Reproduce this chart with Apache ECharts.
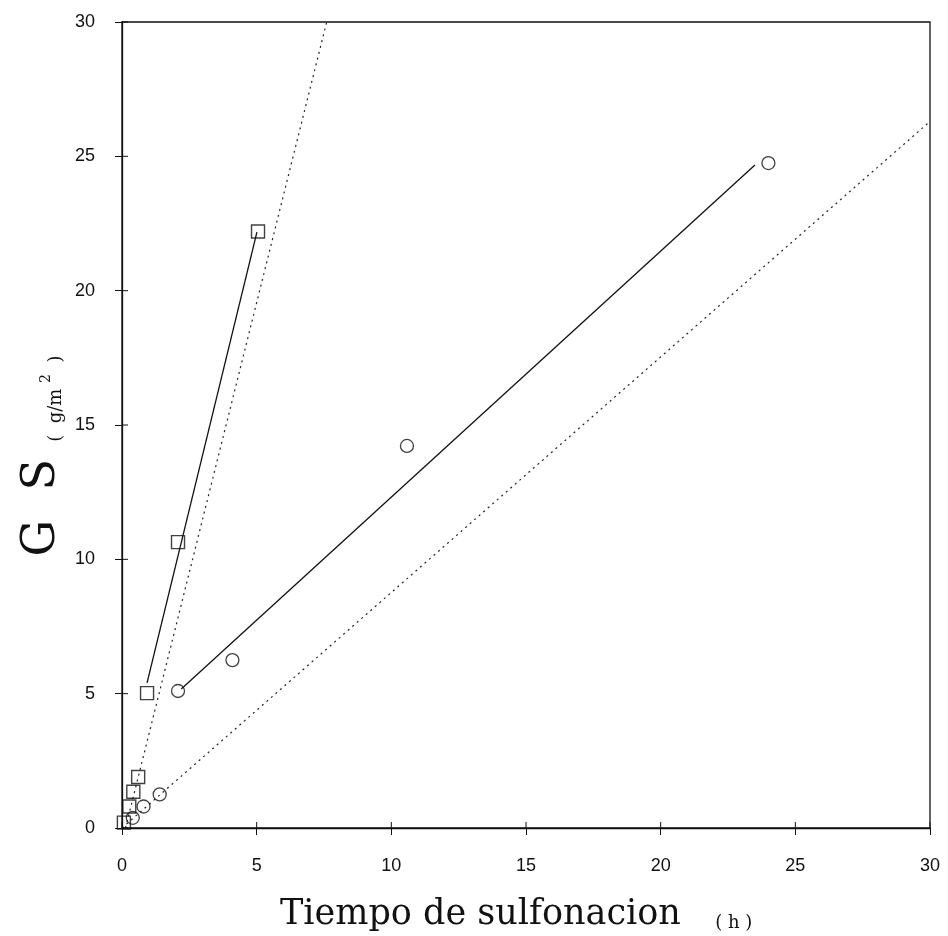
<!DOCTYPE html>
<html>
<head>
<meta charset="utf-8">
<script src="https://cdn.jsdelivr.net/npm/echarts@6/dist/echarts.min.js"></script>
<style>
html,body{margin:0;padding:0;background:#fff;}
#chart{width:948px;height:936px;}
</style>
</head>
<body>
<div id="chart"></div>
<script>
// Tick labels
var xTicks = [0, 5, 10, 15, 20, 25, 30];
var yTicks = [0, 5, 10, 15, 20, 25, 30];

// Square series (time h, GS g/m2)
var squareX = [0.07, 0.27, 0.42, 0.60, 0.93, 2.08, 5.05];
var squareY = [0.20, 0.80, 1.35, 1.90, 5.02, 10.64, 22.2];

// Circle series
var circleX = [0.40, 0.80, 1.40, 2.08, 4.10, 10.58, 24.0];
var circleY = [0.38, 0.80, 1.25, 5.10, 6.25, 14.22, 24.75];

// Solid fit lines (endpoints)
var squareFitX = [0.93, 5.01];
var squareFitY = [5.40, 22.18];
var circleFitX = [2.20, 23.50];
var circleFitY = [5.17, 24.68];

// Dotted reference lines (endpoints)
var steepRefX = [0.13, 7.60];
var steepRefY = [0.0, 30.0];
var lowRefX = [0.0, 30.0];
var lowRefY = [0.0, 26.3];

function pairs(xs, ys){ return xs.map(function(x,i){ return [x, ys[i]]; }); }

// inner half of the crossing ticks, placed through the axes' own scales
var innerTickData = xTicks.map(function(v){ return [v, 0]; })
  .concat(yTicks.map(function(v){ return [v, 1]; }));

var chart = echarts.init(document.getElementById('chart'));
var ink = '#111';
var labelFont = 'Liberation Sans, Arial, sans-serif';
var option = {
  backgroundColor: '#fff',
  animation: false,
  grid: { left: 122, right: 18, top: 22, bottom: 108, show: true, borderColor: ink, borderWidth: 1.3, backgroundColor: 'rgba(0,0,0,0)' },
  xAxis: { type: 'value', min: 0, max: 30, interval: 5,
      axisLine: { show: true, onZero: false, lineStyle: { color: ink, width: 1.3 } },
      axisTick: { show: true, inside: false, length: 7, lineStyle: { color: ink } },
      axisLabel: { margin: 29, fontFamily: labelFont, fontSize: 18, color: ink,
        formatter: function(v){ return xTicks.indexOf(v) >= 0 ? String(v) : ''; } },
      splitLine: { show: false } },
  yAxis: { type: 'value', min: 0, max: 30, interval: 5,
      axisLine: { show: true, onZero: false, lineStyle: { color: ink, width: 1.3 } },
      axisTick: { show: true, inside: false, length: 7, lineStyle: { color: ink } },
      axisLabel: { margin: 27, fontFamily: labelFont, fontSize: 18, color: ink,
        formatter: function(v){ return yTicks.indexOf(v) >= 0 ? String(v) : ''; } },
      splitLine: { show: false } },
  graphic: [
    { type: 'text', left: 280, top: 897, style: {
        text: '{a|Tiempo de sulfonacion}{s|      ( h )}',
        rich: {
          a: { fontFamily: 'DejaVu Serif, serif', fontSize: 35, fill: ink, verticalAlign: 'bottom' },
          s: { fontFamily: 'DejaVu Serif, serif', fontSize: 18, fill: ink, verticalAlign: 'bottom' }
        } } },
    { type: 'text', x: 42, y: 456, rotation: Math.PI/2, style: {
        text: '{a|G  S}{s|   (  g/m }{p|2}{s|  )}',
        align: 'center', verticalAlign: 'middle',
        rich: {
          a: { fontFamily: 'DejaVu Serif, serif', fontSize: 46, fill: ink, verticalAlign: 'bottom' },
          s: { fontFamily: 'DejaVu Serif, serif', fontSize: 18, fill: ink, verticalAlign: 'bottom' },
          p: { fontFamily: 'DejaVu Serif, serif', fontSize: 14, fill: ink, verticalAlign: 'bottom', padding: [0,0,12,0] }
        } } }
  ],
  series: [
    { type: 'custom', data: innerTickData, silent: true, z: 5, clip: false,
      renderItem: function(params, api){
        var v = api.value(0), kind = api.value(1);
        var p = kind === 0 ? api.coord([v, 0]) : api.coord([0, v]);
        var x2 = kind === 0 ? p[0] : p[0] + 6;
        var y2 = kind === 0 ? p[1] - 6 : p[1];
        return { type: 'line', shape: { x1: p[0], y1: p[1], x2: x2, y2: y2 },
                 style: { stroke: ink, lineWidth: 1 } };
      } },
    { type: 'line', data: pairs(lowRefX, lowRefY), symbol: 'none', silent: true,
      lineStyle: { color: '#222', width: 1.2, type: [2, 4] }, z: 1 },
    { type: 'line', data: pairs(steepRefX, steepRefY), symbol: 'none', silent: true,
      lineStyle: { color: '#222', width: 1.2, type: [2, 4] }, z: 1 },
    { type: 'line', data: pairs(squareFitX, squareFitY), symbol: 'none', silent: true,
      lineStyle: { color: ink, width: 1.3 }, z: 2 },
    { type: 'line', data: pairs(circleFitX, circleFitY), symbol: 'none', silent: true,
      lineStyle: { color: ink, width: 1.3 }, z: 2 },
    { type: 'scatter', data: pairs(squareX, squareY), symbol: 'rect', symbolSize: 13,
      itemStyle: { color: 'rgba(255,255,255,0)', borderColor: ink, borderWidth: 1.4 }, z: 3 },
    { type: 'scatter', data: pairs(circleX, circleY), symbol: 'circle', symbolSize: 13,
      itemStyle: { color: 'rgba(255,255,255,0)', borderColor: ink, borderWidth: 1.3 }, z: 3 }
  ]
};
chart.setOption(option);
</script>
</body>
</html>
